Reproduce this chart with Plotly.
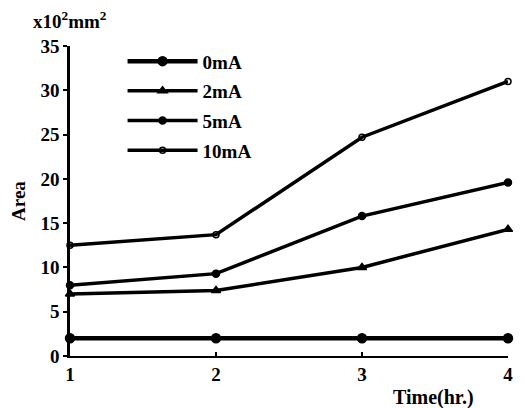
import plotly.graph_objects as go

time_hr = [1, 2, 3, 4]
series_names = ["0mA", "2mA", "5mA", "10mA"]
area_0mA = [2.0, 2.0, 2.0, 2.0]
area_2mA = [7.0, 7.4, 10.0, 14.3]
area_5mA = [8.0, 9.3, 15.8, 19.6]
area_10mA = [12.5, 13.7, 24.7, 31.0]
y_ticks = [0, 5, 10, 15, 20, 25, 30, 35]
x_ticks = [1, 2, 3, 4]

values = [area_0mA, area_2mA, area_5mA, area_10mA]
symbols = ["circle", "triangle-up", "circle", "circle-open"]
msizes = [9, 8, 7, 6]
widths = [4.5, 3.5, 3.5, 3.5]

FONT = "Liberation Serif"
fig = go.Figure()
for name, vals, sym, ms, w in zip(series_names, values, symbols, msizes, widths):
    fig.add_trace(go.Scatter(
        x=time_hr, y=vals, name=name, mode="lines+markers",
        line=dict(color="black", width=w),
        marker=dict(symbol=sym, size=ms, color="black",
                    line=dict(color="black", width=1.5)),
        cliponaxis=False, legendgroup=name,
    ))

fig.update_layout(
    width=525, height=408,
    margin=dict(l=70, r=12, t=46, b=52),
    paper_bgcolor="white", plot_bgcolor="white",
    font=dict(family=FONT, size=18, color="black"),
    showlegend=True,
    legend=dict(x=0.12, y=1.012, xanchor="left", yanchor="top",
                bgcolor="rgba(0,0,0,0)", itemwidth=70, tracegroupgap=2,
                font=dict(family=FONT, size=19, color="black", weight="bold")),
    xaxis=dict(range=[1, 4], tickvals=x_ticks, ticktext=[f"<b>{v}</b>" for v in x_ticks],
               showline=True, linecolor="black", linewidth=2, showgrid=False,
               zeroline=False, ticks="inside", ticklen=4, tickwidth=2, tickcolor="black",
               tickfont=dict(family=FONT, size=19)),
    yaxis=dict(range=[0, 35], tickvals=y_ticks, ticktext=[f"<b>{v}</b>" for v in y_ticks],
               showline=True, linecolor="black", linewidth=2.5, showgrid=False,
               zeroline=False, ticks="outside", ticklen=4, tickwidth=2, tickcolor="black",
               tickfont=dict(family=FONT, size=19),
               title=dict(text="<b>Area</b>", font=dict(family=FONT, size=19), standoff=10)),
    annotations=[
        dict(text="<b>x10<sup>2</sup>mm<sup>2</sup></b>", xref="paper", yref="paper",
             x=-0.088, y=1.0, yshift=26, xanchor="left", yanchor="middle", showarrow=False,
             font=dict(family=FONT, size=19)),
        dict(text="<b>Time(hr.)</b>", xref="paper", yref="paper",
             x=0.926, y=0, yshift=-41, xanchor="right", yanchor="middle", showarrow=False,
             font=dict(family=FONT, size=20)),
    ],
)

fig.write_html("out.html")
